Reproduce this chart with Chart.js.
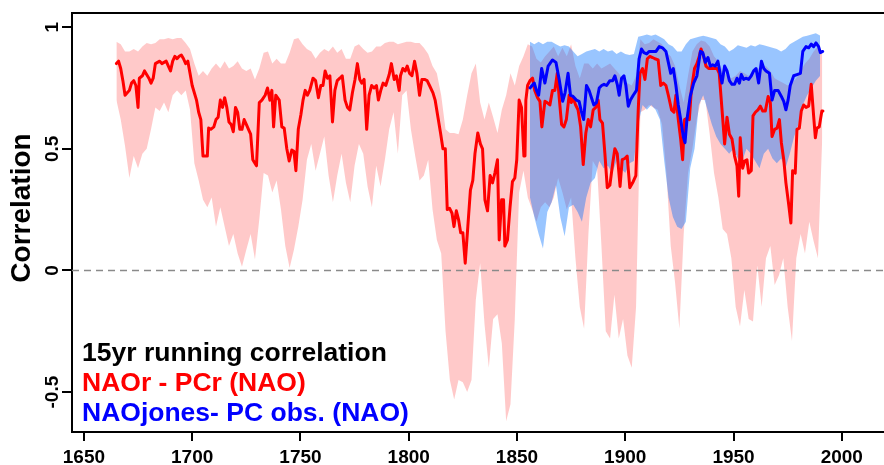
<!DOCTYPE html>
<html>
<head>
<meta charset="utf-8">
<script src="https://cdn.jsdelivr.net/npm/chart.js@4.4.0/dist/chart.umd.min.js"></script>
<style>
  body { margin: 0; background: #fff; }
  #wrap { width: 884px; height: 465px; }
</style>
</head>
<body>
<div id="wrap"><canvas id="corrChart" width="884" height="465"></canvas></div>
<script>
// 15yr running correlation, NAOr - PCr (red) and NAOjones - PC obs. (blue)

var xTicks = [1650, 1700, 1750, 1800, 1850, 1900, 1950, 2000];
var yTicks = [-0.5, 0, 0.5, 1];

// red line (NAOr - PCr)
var redYears = [
  1665, 1666, 1667, 1668, 1669, 1670, 1671, 1672, 1673, 1674,
  1675, 1675.6, 1677, 1678, 1680, 1681, 1682, 1683, 1685, 1686,
  1688, 1689, 1690, 1691, 1692, 1693, 1694, 1695, 1696, 1697,
  1698, 1699, 1700, 1702, 1703, 1704, 1705, 1706, 1707, 1707.6,
  1708.6, 1710, 1711, 1712, 1713, 1714, 1715, 1716, 1717, 1718,
  1719, 1720, 1721, 1722, 1723, 1724, 1725, 1726, 1727, 1728,
  1729.7, 1731, 1732.2, 1733.7, 1734.8, 1735.9, 1736.8, 1737.6, 1738.6, 1740.2,
  1741.4, 1742.5, 1743.7, 1744.8, 1746, 1747, 1747.9, 1749, 1750.2, 1751.2,
  1752.2, 1753.2, 1754.3, 1755.8, 1757, 1758.3, 1759.4, 1760.4, 1761.4, 1762.5,
  1763.6, 1764.8, 1765.9, 1767, 1768.2, 1769.3, 1770.6, 1771.7, 1772.8, 1774,
  1775.2, 1776.3, 1777.4, 1778.3, 1779.4, 1780.6, 1781.7, 1782.9, 1784, 1785.1,
  1786, 1787.1, 1788.2, 1789.4, 1791, 1792, 1793.3, 1794.3, 1795.6, 1796.2,
  1797.3, 1798.4, 1799.3, 1800.4, 1801.5, 1802.7, 1803.8, 1805, 1806.1, 1807.3,
  1808.5, 1809.6, 1811.2, 1812.2, 1813.5, 1814.7, 1815.8, 1816.9, 1817.8, 1818.9,
  1820, 1820.9, 1822, 1823, 1824, 1825, 1826.1, 1827.3, 1828.5, 1829.6,
  1830.6, 1831.9, 1833.1, 1834.1, 1835.2, 1836.4, 1837.6, 1838.7, 1839.8, 1841,
  1841.8, 1842.9, 1843.8, 1844.4, 1845.6, 1846.8, 1847.9, 1849, 1849.9, 1851,
  1852.1, 1853.2, 1853.7, 1854.1, 1854.9, 1856, 1857.2, 1858.2, 1859.5, 1860.6,
  1861.5, 1862.9, 1863.9, 1865.2, 1866.4, 1867.5, 1868.6, 1869.5, 1870.6, 1871.7,
  1872.8, 1874.1, 1875.1, 1875.9, 1877.1, 1878.2, 1879.4, 1880.6, 1881.8, 1882.9,
  1884, 1885.2, 1886.4, 1887.5, 1888.3, 1889.5, 1890.6, 1891.7, 1892.9, 1894.2,
  1895.2, 1896.3, 1897.6, 1898.6, 1899.8, 1900.9, 1902.1, 1903.4, 1904.9, 1906,
  1906.8, 1908, 1909.1, 1910.2, 1911.4, 1912.6, 1913.7, 1915.2, 1916.4, 1917.6,
  1918.8, 1919.9, 1921.4, 1922.5, 1923.4, 1924.5, 1925.6, 1926.5, 1927.4, 1928.5,
  1929.6, 1930.5, 1932, 1933.1, 1934.2, 1935, 1936.2, 1937.3, 1938.5, 1939.8,
  1940.8, 1942.4, 1943.4, 1944.7, 1945.9, 1947, 1948.1, 1949.3, 1950.5, 1951.6,
  1952.4, 1953.1, 1954.2, 1955.2, 1956.2, 1957, 1958.2, 1959, 1960.1, 1961.3,
  1962.4, 1963.5, 1964.7, 1966, 1967, 1967.8, 1969, 1970.1, 1971.2, 1972.1,
  1973.2, 1974.2, 1975.5, 1976.5, 1977.3, 1978.5, 1979.3, 1980.4, 1981.3, 1982.4,
  1983.5, 1984.7, 1985.9, 1987, 1987.8, 1988.5, 1989.6, 1990.8, 1991.3
];
var redCorr = [
  0.85, 0.86, 0.83, 0.78, 0.72, 0.73, 0.74, 0.77, 0.78, 0.76,
  0.67, 0.79, 0.80, 0.82, 0.79, 0.77, 0.79, 0.85, 0.86, 0.85,
  0.86, 0.84, 0.82, 0.86, 0.88, 0.87, 0.88, 0.885, 0.87, 0.85,
  0.86, 0.81, 0.76, 0.70, 0.65, 0.62, 0.47, 0.47, 0.47, 0.585,
  0.58, 0.59, 0.62, 0.63, 0.70, 0.67, 0.71, 0.67, 0.61, 0.60,
  0.57, 0.67, 0.65, 0.58, 0.58, 0.62, 0.60, 0.58, 0.56, 0.455,
  0.43, 0.69, 0.70, 0.72, 0.75, 0.70, 0.74, 0.59, 0.72, 0.70,
  0.59, 0.585, 0.50, 0.45, 0.495, 0.49, 0.41, 0.58, 0.64, 0.70,
  0.74, 0.72, 0.74, 0.79, 0.78, 0.71, 0.76, 0.76, 0.82, 0.79,
  0.80, 0.61, 0.74, 0.78, 0.79, 0.80, 0.70, 0.67, 0.66, 0.73,
  0.785, 0.85, 0.785, 0.77, 0.785, 0.58, 0.72, 0.76, 0.75, 0.76,
  0.70, 0.74, 0.77, 0.76, 0.805, 0.85, 0.785, 0.80, 0.74, 0.80,
  0.83, 0.82, 0.84, 0.81, 0.80, 0.86, 0.81, 0.72, 0.785, 0.785,
  0.78, 0.76, 0.73, 0.70, 0.63, 0.565, 0.50, 0.50, 0.25, 0.255,
  0.235, 0.18, 0.245, 0.21, 0.155, 0.155, 0.03, 0.18, 0.33, 0.37,
  0.48, 0.565, 0.52, 0.50, 0.29, 0.245, 0.39, 0.36, 0.40, 0.455,
  0.125, 0.29, 0.29, 0.10, 0.125, 0.26, 0.365, 0.38, 0.455, 0.70,
  0.67, 0.47, 0.47, 0.70, 0.76, 0.78, 0.79, 0.74, 0.71, 0.695,
  0.59, 0.695, 0.69, 0.68, 0.74, 0.74, 0.81, 0.71, 0.60, 0.59,
  0.62, 0.72, 0.69, 0.71, 0.68, 0.66, 0.59, 0.435, 0.565, 0.62,
  0.59, 0.66, 0.67, 0.70, 0.62, 0.605, 0.48, 0.34, 0.35, 0.44,
  0.50, 0.48, 0.345, 0.455, 0.46, 0.47, 0.34, 0.36, 0.39, 0.66,
  0.81, 0.83, 0.785, 0.87, 0.88, 0.875, 0.87, 0.865, 0.76, 0.77,
  0.76, 0.72, 0.66, 0.65, 0.72, 0.62, 0.54, 0.455, 0.62, 0.625,
  0.62, 0.74, 0.83, 0.85, 0.88, 0.91, 0.88, 0.84, 0.83, 0.83,
  0.83, 0.83, 0.81, 0.66, 0.52, 0.63, 0.56, 0.54, 0.47, 0.43,
  0.305, 0.545, 0.42, 0.45, 0.455, 0.40, 0.41, 0.635, 0.65, 0.66,
  0.675, 0.655, 0.655, 0.715, 0.69, 0.55, 0.58, 0.585, 0.62, 0.525,
  0.455, 0.36, 0.27, 0.195, 0.41, 0.40, 0.58, 0.585, 0.655, 0.68,
  0.67, 0.675, 0.765, 0.635, 0.545, 0.585, 0.59, 0.655, 0.655
];

// red shaded band, every second year from 1665
var redBandYears = [];
for (var yr = 1665; yr <= 1991; yr += 2) redBandYears.push(yr);
var redUpper = [
  0.94, 0.93, 0.90, 0.90, 0.91, 0.90, 0.92, 0.935, 0.93, 0.935,
  0.95, 0.95, 0.955, 0.95, 0.955, 0.955, 0.935, 0.91, 0.85, 0.80,
  0.82, 0.80, 0.83, 0.85, 0.83, 0.86, 0.83, 0.84, 0.86, 0.83,
  0.82, 0.83, 0.785, 0.83, 0.895, 0.90, 0.85, 0.87, 0.85, 0.85,
  0.895, 0.95, 0.955, 0.93, 0.91, 0.90, 0.87, 0.895, 0.91, 0.90,
  0.92, 0.895, 0.91, 0.87, 0.87, 0.92, 0.93, 0.91, 0.895, 0.90,
  0.92, 0.92, 0.935, 0.94, 0.94, 0.93, 0.935, 0.94, 0.94, 0.935,
  0.935, 0.915, 0.89, 0.84, 0.81, 0.72, 0.58, 0.565, 0.565, 0.56,
  0.62, 0.72, 0.81, 0.85, 0.69, 0.62, 0.69, 0.63, 0.565, 0.66,
  0.72, 0.81, 0.76, 0.84, 0.88, 0.93, 0.92, 0.87, 0.855, 0.88,
  0.90, 0.92, 0.88, 0.915, 0.88, 0.93, 0.84, 0.79, 0.85, 0.85,
  0.83, 0.85, 0.83, 0.84, 0.85, 0.83, 0.81, 0.785, 0.77, 0.76,
  0.80, 0.95, 0.93, 0.935, 0.95, 0.94, 0.93, 0.895, 0.88, 0.84,
  0.76, 0.69, 0.80, 0.90, 0.93, 0.945, 0.94, 0.92, 0.88, 0.86,
  0.82, 0.80, 0.79, 0.80, 0.82, 0.81, 0.80, 0.82, 0.83, 0.83,
  0.84, 0.82, 0.79, 0.78, 0.77, 0.76, 0.77, 0.79, 0.82, 0.85,
  0.87, 0.90, 0.92, 0.90
];
var redLower = [
  0.70, 0.62, 0.51, 0.38, 0.47, 0.42, 0.48, 0.50, 0.58, 0.67,
  0.655, 0.69, 0.65, 0.72, 0.74, 0.72, 0.74, 0.66, 0.44, 0.37,
  0.29, 0.26, 0.30, 0.18, 0.26, 0.18, 0.10, 0.15, 0.07, 0.015,
  0.085, 0.15, 0.045, 0.21, 0.40, 0.39, 0.32, 0.37, 0.25, 0.10,
  0.01, 0.085, 0.18, 0.29, 0.455, 0.52, 0.41, 0.48, 0.55, 0.39,
  0.28, 0.39, 0.48, 0.36, 0.28, 0.43, 0.52, 0.48, 0.345, 0.26,
  0.43, 0.345, 0.455, 0.58, 0.65, 0.48, 0.72, 0.74, 0.58, 0.47,
  0.37, 0.39, 0.455, 0.25, 0.125, 0.07, -0.25, -0.45, -0.53, -0.45,
  -0.46, -0.50, -0.45, -0.12, 0.03, -0.22, -0.40, -0.20, -0.18, -0.30,
  -0.62, -0.55, -0.20, 0.32, 0.41, 0.30, 0.25, 0.20, 0.26, 0.28,
  0.26, 0.30, 0.38, 0.32, 0.25, 0.30, 0.05, -0.15, -0.24, 0.15,
  0.45, 0.42, 0.10, -0.25, -0.28, -0.10, -0.28, -0.20, -0.35, -0.40,
  -0.15, 0.65, 0.66, 0.68, 0.67, 0.66, 0.60, 0.40, 0.10, -0.05,
  -0.24, 0.15, 0.40, 0.50, 0.62, 0.70, 0.70, 0.56, 0.40, 0.30,
  0.17, 0.15, 0.05, -0.15, -0.23, -0.08, -0.20, -0.21, 0.02, -0.15,
  0.05, 0.10, -0.06, -0.02, 0.05, -0.15, -0.29, 0.05, 0.15, 0.07,
  0.20, 0.12, 0.05, 0.55
];

// blue line (NAOjones - PC obs.)
var blueYears = [
  1856, 1857, 1858, 1859, 1860, 1861.4, 1862.9, 1864.4, 1866.4, 1868,
  1869.5, 1871.1, 1872.2, 1873.6, 1874.7, 1875.9, 1877.4, 1878.7, 1879.7, 1880.8,
  1882.1, 1883.3, 1884.4, 1885.5, 1886.7, 1888, 1889.1, 1890.2, 1891.4, 1892.9,
  1894.2, 1895.2, 1896.3, 1897.2, 1898.3, 1899.4, 1900.3, 1901.4, 1902.4, 1903.7,
  1905.2, 1906.4, 1907.5, 1908.6, 1909.9, 1911.1, 1912.6, 1914.2, 1915.7, 1917.2,
  1918.8, 1919.9, 1921, 1922.2, 1923.4, 1924.5, 1925.6, 1926.8, 1927.6, 1928.5,
  1930, 1931.6, 1933.1, 1934.7, 1935.8, 1937, 1938.2, 1939.3, 1940.4, 1941.6,
  1942.8, 1943.9, 1944.7, 1945.9, 1947, 1948.1, 1949.3, 1950.5, 1951.6, 1952.7,
  1953.6, 1954.7, 1955.7, 1957, 1958.2, 1959.3, 1960.4, 1961.6, 1962.9, 1964,
  1965, 1966.6, 1967.8, 1969, 1970.6, 1972.1, 1973.2, 1974.2, 1975.2, 1976.2,
  1977.8, 1979.3, 1980.9, 1982, 1983.5, 1984.7, 1985.9, 1987, 1988.1, 1989.3,
  1990.1, 1991.2
];
var blueCorr = [
  0.75, 0.76, 0.77, 0.74, 0.72, 0.83, 0.77, 0.84, 0.865, 0.855,
  0.785, 0.695, 0.73, 0.81, 0.72, 0.715, 0.70, 0.695, 0.655, 0.62,
  0.76, 0.74, 0.71, 0.68, 0.69, 0.75, 0.76, 0.765, 0.76, 0.78,
  0.78, 0.80, 0.765, 0.72, 0.79, 0.80, 0.76, 0.675, 0.70, 0.72,
  0.74, 0.87, 0.91, 0.895, 0.89, 0.90, 0.90, 0.90, 0.92, 0.915,
  0.90, 0.855, 0.81, 0.83, 0.76, 0.68, 0.62, 0.55, 0.525, 0.62,
  0.715, 0.77, 0.80, 0.90, 0.895, 0.855, 0.875, 0.84, 0.845, 0.84,
  0.86, 0.805, 0.77, 0.84, 0.82, 0.78, 0.765, 0.765, 0.79, 0.77,
  0.805, 0.785, 0.79, 0.785, 0.80, 0.82, 0.83, 0.77, 0.86, 0.83,
  0.82, 0.81, 0.70, 0.74, 0.74, 0.715, 0.695, 0.66, 0.70, 0.76,
  0.80, 0.805, 0.81, 0.90, 0.92, 0.915, 0.93, 0.92, 0.935, 0.92,
  0.895, 0.90
];

// blue shaded band, every second year from 1856
var blueBandYears = [];
for (var yb = 1856; yb <= 1990; yb += 2) blueBandYears.push(yb);
var blueUpper = [
  0.94, 0.93, 0.94, 0.93, 0.94, 0.94, 0.93, 0.92, 0.925, 0.92,
  0.90, 0.88, 0.89, 0.90, 0.905, 0.91, 0.90, 0.91, 0.90, 0.905,
  0.89, 0.90, 0.89, 0.885, 0.89, 0.96, 0.965, 0.97, 0.965, 0.97,
  0.96, 0.95, 0.93, 0.92, 0.90, 0.90, 0.93, 0.95, 0.955, 0.96,
  0.965, 0.96, 0.955, 0.95, 0.93, 0.92, 0.90, 0.91, 0.925, 0.92,
  0.915, 0.925, 0.92, 0.93, 0.925, 0.92, 0.915, 0.91, 0.90, 0.91,
  0.93, 0.94, 0.95, 0.96, 0.965, 0.97, 0.975, 0.965
];
var blueLower = [
  0.30, 0.22, 0.15, 0.09, 0.24, 0.28, 0.35, 0.22, 0.14, 0.26,
  0.27, 0.24, 0.20, 0.30, 0.36, 0.38, 0.45, 0.42, 0.43, 0.40,
  0.45, 0.42, 0.40, 0.44, 0.45, 0.60, 0.68, 0.66, 0.68, 0.66,
  0.62, 0.45, 0.30, 0.22, 0.18, 0.17, 0.20, 0.42, 0.50, 0.68,
  0.72, 0.66, 0.60, 0.55, 0.52, 0.50, 0.48, 0.50, 0.46, 0.45,
  0.50, 0.48, 0.45, 0.42, 0.48, 0.50, 0.46, 0.44, 0.46, 0.42,
  0.48, 0.55, 0.60, 0.68, 0.72, 0.75, 0.78, 0.80
];

var legendLines = ['15yr running correlation', 'NAOr - PCr (NAO)', 'NAOjones- PC obs. (NAO)'];
var legendColors = ['#000000', '#ff0000', '#0000ff'];

var fontFam = '"Liberation Sans", Arial, Helvetica, sans-serif';

function toPoints(xs, ys) {
    return xs.map(function (x, i) { return { x: x, y: ys[i] }; });
}

// box top, dashed zero line, rotated y labels and the text legend
var extras = {
    id: 'extras',
    afterDatasetsDraw: function (chart) {
        var ctx = chart.ctx;
        var area = chart.chartArea;
        var y0 = chart.scales.y.getPixelForValue(0);
        ctx.save();
        ctx.strokeStyle = '#8a8a8a';
        ctx.lineWidth = 1.5;
        ctx.setLineDash([7, 5]);
        ctx.beginPath();
        ctx.moveTo(area.left, y0);
        ctx.lineTo(area.right, y0);
        ctx.stroke();
        ctx.restore();
    },
    afterDraw: function (chart) {
        var ctx = chart.ctx;
        var area = chart.chartArea;
        var yScale = chart.scales.y;

        ctx.save();
        ctx.strokeStyle = '#000';
        ctx.lineWidth = 2;
        ctx.beginPath();
        ctx.moveTo(area.left - 1, area.top);
        ctx.lineTo(area.right, area.top);
        ctx.stroke();

        // y tick labels, rotated like R does
        ctx.fillStyle = '#000';
        ctx.font = 'bold 19px ' + fontFam;
        ctx.textAlign = 'center';
        ctx.textBaseline = 'alphabetic';
        yTicks.forEach(function (v) {
            var py = yScale.getPixelForValue(v);
            ctx.save();
            ctx.translate(58, py);
            ctx.rotate(-Math.PI / 2);
            ctx.fillText(String(v), 0, 0);
            ctx.restore();
        });

        // y axis title
        ctx.save();
        ctx.font = 'bold 28px ' + fontFam;
        ctx.translate(22, 208);
        ctx.rotate(-Math.PI / 2);
        ctx.textBaseline = 'middle';
        ctx.fillText('Correlation', 0, 0);
        ctx.restore();

        // legend text
        ctx.font = 'bold 26.5px ' + fontFam;
        ctx.textAlign = 'left';
        ctx.textBaseline = 'alphabetic';
        legendLines.forEach(function (txt, i) {
            ctx.fillStyle = legendColors[i];
            ctx.fillText(txt, 82, 361 + i * 30);
        });
        ctx.restore();
    }
};

var ctx = document.getElementById('corrChart').getContext('2d');
var corrChart = new Chart(ctx, {
    type: 'line',
    data: {
        datasets: [
            {
                label: 'NAOjones- PC obs. (NAO)',
                data: toPoints(blueYears, blueCorr),
                borderColor: '#0000ff',
                borderWidth: 3,
                fill: false,
                order: 1
            },
            {
                label: 'NAOr - PCr (NAO)',
                data: toPoints(redYears, redCorr),
                borderColor: '#ff0000',
                borderWidth: 3,
                fill: false,
                order: 2
            },
            {
                label: 'blue upper',
                data: toPoints(blueBandYears, blueUpper),
                borderColor: 'rgba(0,0,0,0)',
                borderWidth: 0,
                backgroundColor: 'rgba(0, 110, 255, 0.4)',
                fill: 3,
                order: 3
            },
            {
                label: 'blue lower',
                data: toPoints(blueBandYears, blueLower),
                borderColor: 'rgba(0,0,0,0)',
                borderWidth: 0,
                fill: false,
                order: 4
            },
            {
                label: 'red upper',
                data: toPoints(redBandYears, redUpper),
                borderColor: 'rgba(0,0,0,0)',
                borderWidth: 0,
                backgroundColor: 'rgba(255, 0, 0, 0.21)',
                fill: 5,
                order: 5
            },
            {
                label: 'red lower',
                data: toPoints(redBandYears, redLower),
                borderColor: 'rgba(0,0,0,0)',
                borderWidth: 0,
                fill: false,
                order: 6
            }
        ]
    },
    options: {
        responsive: false,
        animation: false,
        devicePixelRatio: 1,
        layout: { padding: { top: 13, left: 0, right: 0, bottom: 0 } },
        elements: {
            point: { radius: 0 },
            line: { tension: 0, borderJoinStyle: 'round', borderCapStyle: 'round' }
        },
        plugins: {
            legend: { display: false },
            tooltip: { enabled: false }
        },
        scales: {
            x: {
                type: 'linear',
                min: 1644.5,
                max: 2019.5,
                afterBuildTicks: function (s) { s.ticks = xTicks.map(function (v) { return { value: v }; }); },
                afterFit: function (s) { s.height = 33; },
                grid: { drawOnChartArea: false, drawTicks: true, tickLength: 9, color: '#000', lineWidth: 2 },
                border: { display: true, color: '#000', width: 2 },
                ticks: {
                    color: '#000',
                    font: { family: fontFam, size: 19, weight: 'bold' },
                    padding: 5,
                    maxRotation: 0,
                    autoSkip: false,
                    callback: function (v) { return String(v); }
                }
            },
            y: {
                min: -0.664,
                max: 1.058,
                afterBuildTicks: function (s) { s.ticks = yTicks.map(function (v) { return { value: v }; }); },
                afterFit: function (s) { s.width = 72; },
                grid: { drawOnChartArea: false, drawTicks: true, tickLength: 10, color: '#000', lineWidth: 2 },
                border: { display: true, color: '#000', width: 2 },
                ticks: { display: false }
            }
        }
    },
    plugins: [extras]
});
</script>
</body>
</html>
